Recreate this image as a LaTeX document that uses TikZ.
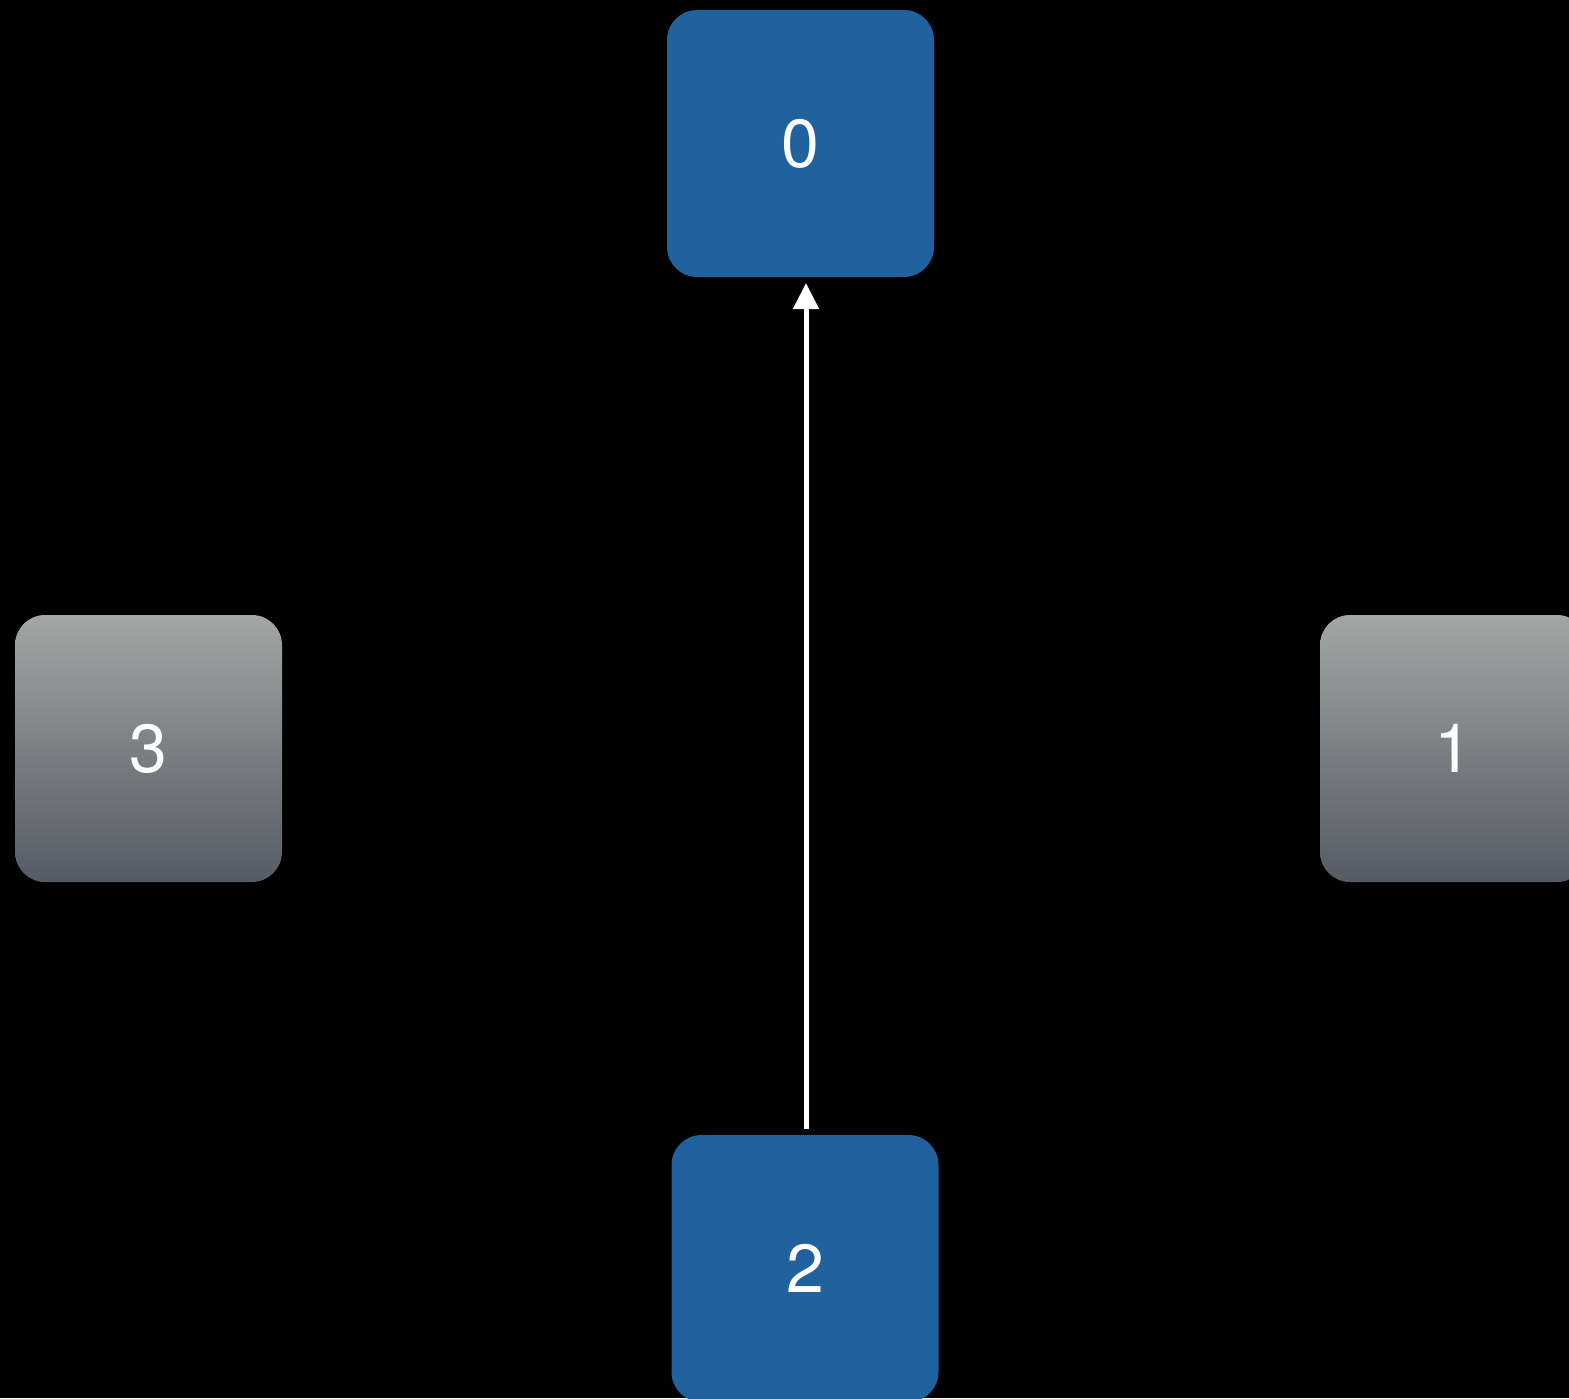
\documentclass[tikz,border=0pt]{standalone}
\usepackage{fontspec}
\setmainfont{TeX Gyre Heros}
\usetikzlibrary{arrows.meta}
\definecolor{nodeblue}{RGB}{31,98,158}
\definecolor{graytop}{RGB}{162,166,164}
\definecolor{graybot}{RGB}{86,90,99}
\tikzset{
  box/.style={rectangle, rounded corners=30pt, minimum width=267pt, minimum height=267pt,
    inner sep=0pt, outer sep=0pt, text=white, font=\fontsize{68}{68}\selectfont},
  bluebox/.style={box, fill=nodeblue},
  graybox/.style={box, top color=graytop, bottom color=graybot},
  arr/.style={draw=white, line width=5pt, -{Triangle[width=25pt,length=26pt]}}
}
\begin{document}
\begin{tikzpicture}[x=1pt,y=-1pt]
\fill[black] (0,0) rectangle (1569,1398);
\useasboundingbox (0,0) rectangle (1569,1398);
\node[bluebox] (n0) at (800.5,143.5) {0};
\node[graybox] (n3) at (148.5,748.5) {3};
\node[graybox] (n1) at (1453.5,748.5) {1};
\node[bluebox] (n2) at (805,1268.5) {2};
\draw[arr] ([xshift=1pt,yshift=6pt]n2.north) -- ([xshift=5.5pt,yshift=-6pt]n0.south);
\end{tikzpicture}
\end{document}
